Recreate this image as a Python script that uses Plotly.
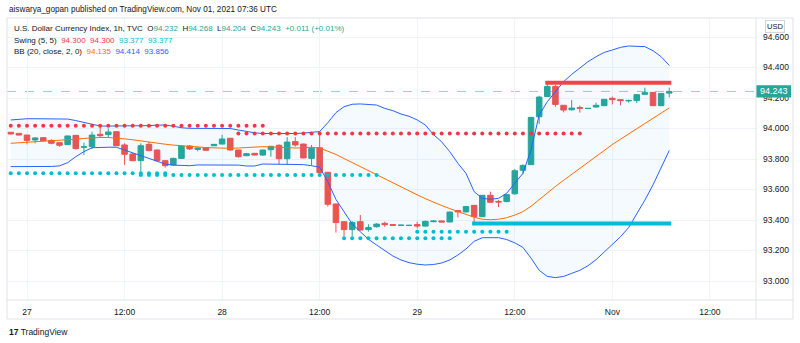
import plotly.graph_objects as go

# ---------------- data ----------------
bar_idx = list(range(-2, 80))  # hourly bars, 0 = Oct 27 00:00 UTC (weekend gap removed)

opens = [93.975, 93.968, 93.957, 93.925, 93.940, 93.922, 93.907, 93.894, 93.955, 93.877,
         93.881, 93.962, 93.960, 93.979, 93.892, 93.833, 93.789, 93.896, 93.859, 93.789,
         93.761, 93.804, 93.885, 93.863, 93.874, 93.887, 93.898, 93.936, 93.859, 93.822,
         93.837, 93.826, 93.861, 93.890, 93.802, 93.914, 93.898, 93.804, 93.874, 93.713,
         93.505, 93.389, 93.337, 93.389, 93.337, 93.356, 93.378, 93.370, 93.365, 93.364,
         93.370, 93.360, 93.389, 93.394, 93.387, 93.462, 93.453, 93.496, 93.422, 93.562,
         93.522, 93.521, 93.572, 93.726, 93.763, 94.077, 94.209, 94.276, 94.152, 94.123,
         94.137, 94.131, 94.141, 94.150, 94.198, 94.189, 94.181, 94.183, 94.224, 94.237,
         94.150, 94.232]
highs = [93.977, 93.970, 93.958, 93.944, 93.944, 93.929, 93.909, 93.953, 93.958, 93.907,
         93.979, 94.012, 94.001, 93.981, 93.903, 93.838, 93.903, 93.914, 93.863, 93.792,
         93.809, 93.887, 93.892, 93.876, 93.876, 93.898, 93.958, 93.938, 93.861, 93.840,
         93.840, 93.861, 93.885, 93.896, 93.944, 93.944, 93.900, 93.892, 93.983, 93.715,
         93.507, 93.391, 93.394, 93.433, 93.372, 93.379, 93.389, 93.374, 93.368, 93.368,
         93.389, 93.396, 93.400, 93.396, 93.455, 93.465, 93.493, 93.498, 93.564, 93.586,
         93.531, 93.570, 93.735, 93.765, 94.076, 94.215, 94.300, 94.285, 94.152, 94.187,
         94.150, 94.133, 94.169, 94.193, 94.209, 94.193, 94.189, 94.224, 94.268, 94.239,
         94.232, 94.268]
lows = [93.962, 93.955, 93.896, 93.903, 93.918, 93.896, 93.881, 93.892, 93.862, 93.826,
        93.866, 93.940, 93.940, 93.885, 93.761, 93.786, 93.717, 93.850, 93.785, 93.743,
        93.756, 93.802, 93.859, 93.850, 93.855, 93.885, 93.896, 93.855, 93.809, 93.818,
        93.824, 93.820, 93.815, 93.765, 93.763, 93.881, 93.805, 93.757, 93.705, 93.488,
        93.318, 93.291, 93.291, 93.331, 93.324, 93.350, 93.356, 93.362, 93.362, 93.360,
        93.345, 93.357, 93.385, 93.385, 93.385, 93.417, 93.450, 93.377, 93.420, 93.514,
        93.485, 93.516, 93.565, 93.700, 93.761, 94.030, 94.206, 94.142, 94.106, 94.117,
        94.104, 94.130, 94.137, 94.146, 94.158, 94.152, 94.170, 94.167, 94.222, 94.148,
        94.146, 94.204]
closes = [93.964, 93.957, 93.922, 93.938, 93.920, 93.903, 93.890, 93.951, 93.868, 93.880,
          93.957, 93.953, 93.977, 93.887, 93.831, 93.789, 93.887, 93.855, 93.789, 93.756,
          93.804, 93.885, 93.866, 93.872, 93.857, 93.896, 93.931, 93.859, 93.815, 93.835,
          93.826, 93.859, 93.883, 93.802, 93.911, 93.892, 93.807, 93.870, 93.710, 93.503,
          93.383, 93.337, 93.383, 93.334, 93.350, 93.373, 93.369, 93.365, 93.366, 93.365,
          93.360, 93.391, 93.393, 93.387, 93.452, 93.453, 93.488, 93.422, 93.562, 93.516,
          93.518, 93.566, 93.723, 93.758, 94.073, 94.206, 94.276, 94.158, 94.121, 94.134,
          94.133, 94.132, 94.152, 94.191, 94.189, 94.183, 94.184, 94.222, 94.235, 94.150,
          94.230, 94.243]

bb_upper = [94.056, 94.062, 94.064, 94.064, 94.064, 94.064, 94.064, 94.062, 94.052, 94.040,
            94.026, 94.016, 94.016, 94.016, 94.016, 94.016, 94.016, 94.019, 94.022, 94.023,
            94.015, 94.005, 94.001, 94.001, 94.001, 94.001, 94.001, 94.000, 93.990, 93.980,
            93.972, 93.967, 93.966, 93.966, 93.966, 93.967, 93.970, 93.975, 93.980, 94.038,
            94.104, 94.143, 94.159, 94.161, 94.159, 94.154, 94.132, 94.117, 94.095, 94.080,
            94.056, 94.023, 93.960, 93.913, 93.848, 93.772, 93.706, 93.586, 93.542, 93.536,
            93.542, 93.575, 93.641, 93.706, 93.860, 94.089, 94.176, 94.241, 94.307, 94.355,
            94.399, 94.438, 94.471, 94.499, 94.515, 94.532, 94.541, 94.541, 94.537, 94.510,
            94.471, 94.414]
bb_lower = [93.750, 93.750, 93.750, 93.750, 93.750, 93.751, 93.755, 93.776, 93.815, 93.848,
            93.874, 93.877, 93.877, 93.877, 93.859, 93.837, 93.820, 93.804, 93.783, 93.767,
            93.760, 93.758, 93.756, 93.761, 93.761, 93.761, 93.761, 93.761, 93.760, 93.754,
            93.754, 93.767, 93.767, 93.767, 93.767, 93.767, 93.763, 93.756, 93.746, 93.651,
            93.535, 93.454, 93.374, 93.323, 93.273, 93.236, 93.199, 93.164, 93.138, 93.120,
            93.110, 93.105, 93.108, 93.118, 93.138, 93.170, 93.210, 93.260, 93.284, 93.286,
            93.284, 93.272, 93.250, 93.220, 93.150, 93.070, 93.030, 93.022, 93.030, 93.050,
            93.070, 93.100, 93.140, 93.190, 93.240, 93.290, 93.350, 93.440, 93.530, 93.630,
            93.740, 93.856]
bb_basis = [93.903, 93.906, 93.910, 93.914, 93.917, 93.920, 93.923, 93.926, 93.930, 93.935,
            93.940, 93.941, 93.941, 93.938, 93.932, 93.926, 93.918, 93.911, 93.904, 93.897,
            93.891, 93.886, 93.881, 93.877, 93.875, 93.873, 93.871, 93.870, 93.872, 93.875,
            93.878, 93.881, 93.879, 93.876, 93.872, 93.872, 93.874, 93.877, 93.872, 93.852,
            93.830, 93.803, 93.776, 93.750, 93.722, 93.697, 93.672, 93.645, 93.615, 93.590,
            93.565, 93.540, 93.515, 93.495, 93.475, 93.455, 93.435, 93.418, 93.405, 93.402,
            93.405, 93.415, 93.432, 93.455, 93.490, 93.535, 93.575, 93.620, 93.660, 93.700,
            93.740, 93.780, 93.820, 93.860, 93.895, 93.930, 93.965, 94.000, 94.035, 94.070,
            94.100, 94.135]

# swing levels: (price, first bar, last bar)
swing_high_dots = [(94.018, -2, 29), (93.968, 26, 68)]
swing_low_dots = [(93.706, -2, 17), (93.695, 14, 43), (93.280, 39, 52), (93.323, 48, 59)]
resistance = (94.300, 64, 79)
support = (93.377, 55, 79)
last_price = 94.243

tick_bars = [0, 12, 24, 36, 48, 60, 72, 84]
tick_text = ["27", "12:00", "28", "12:00", "29", "12:00", "Nov", "12:00"]
price_ticks = [93.0, 93.2, 93.4, 93.6, 93.8, 94.0, 94.2, 94.4, 94.6]

# ---------------- style ----------------
GREEN = "#26a69a"
RED = "#ef5350"
BLUE = "#2962ff"
ORANGE = "#ff6d00"
DOT_RED = "#f23645"
DOT_CYAN = "#00bcd4"
FONT = "Liberation Sans, Arial, sans-serif"
TXT = "#131722"

W, H = 800, 343
ML, MR, MT, MB = 7, 44, 18, 43
PW = W - ML - MR
PH = H - MT - MB


def px(X):
    return (X - ML) / PW


def py(Y):
    return (H - MB - Y) / PH


fig = go.Figure()

# Bollinger fill + lines
fig.add_trace(go.Scatter(x=bar_idx, y=bb_lower, mode="lines",
                         line=dict(color=BLUE, width=1), hoverinfo="skip"))
fig.add_trace(go.Scatter(x=bar_idx, y=bb_upper, mode="lines", fill="tonexty",
                         fillcolor="rgba(33,150,243,0.05)",
                         line=dict(color=BLUE, width=1), hoverinfo="skip"))
fig.add_trace(go.Scatter(x=bar_idx, y=bb_basis, mode="lines",
                         line=dict(color=ORANGE, width=1), hoverinfo="skip"))

# candles
fig.add_trace(go.Candlestick(
    x=bar_idx, open=opens, high=highs, low=lows, close=closes,
    increasing=dict(line=dict(color=GREEN, width=1), fillcolor=GREEN),
    decreasing=dict(line=dict(color=RED, width=1), fillcolor=RED),
    whiskerwidth=0, hoverinfo="skip"))

# swing dots
for price, a, b in swing_high_dots:
    xs = list(range(a, b + 1))
    fig.add_trace(go.Scatter(x=xs, y=[price] * len(xs), mode="markers",
                             marker=dict(color=DOT_RED, size=4), hoverinfo="skip"))
for price, a, b in swing_low_dots:
    xs = list(range(a, b + 1))
    fig.add_trace(go.Scatter(x=xs, y=[price] * len(xs), mode="markers",
                             marker=dict(color=DOT_CYAN, size=4), hoverinfo="skip"))

# swing thick lines
for (price, a, b), col in [(resistance, "#f44346"), (support, "#00bcd4")]:
    fig.add_trace(go.Scatter(x=[a - 0.25, b + 0.25], y=[price, price], mode="lines",
                             line=dict(color=col, width=4), hoverinfo="skip"))

shapes = [
    # last price dashed line
    dict(type="line", xref="paper", yref="y", x0=0, x1=1, y0=last_price, y1=last_price,
         line=dict(color="rgba(38,166,154,0.5)", width=1, dash="dash"), layer="below"),
    # price label box
    dict(type="rect", xref="paper", yref="y", x0=1.0, x1=px(791), y0=last_price - 0.040,
         y1=last_price + 0.040, fillcolor=GREEN, line=dict(width=0)),
    # frame
    dict(type="rect", xref="paper", yref="paper", x0=0, x1=px(793), y0=py(319), y1=1,
         line=dict(color="#e0e3eb", width=1)),
    dict(type="line", xref="paper", yref="paper", x0=1, x1=1, y0=py(319), y1=1,
         line=dict(color="#e0e3eb", width=1)),
    dict(type="line", xref="paper", yref="paper", x0=0, x1=px(793), y0=0, y1=0,
         line=dict(color="#e0e3eb", width=1)),
]

ann = []


def add_text(X, Y, text, size=10, color=TXT, anchor="left", **kw):
    ann.append(dict(xref="paper", yref="paper", x=px(X), y=py(Y), text=text,
                    showarrow=False, xanchor=anchor, yanchor="middle",
                    font=dict(family=FONT, size=size, color=color), **kw))


def span(t, c):
    return f"<span style='color:{c}'>{t}</span>"


add_text(7, 9, "aiswarya_gopan published on TradingView.com, Nov 01, 2021 07:36 UTC", size=8.2)
add_text(12, 28, "U.S. Dollar Currency Index, 1h, TVC  O" + span("94.232", GREEN) + "  H" +
         span("94.268", GREEN) + "  L" + span("94.204", GREEN) + "  C" + span("94.243", GREEN) +
         "  " + span("+0.011 (+0.01%)", GREEN), size=8)
add_text(12, 40, "Swing (5, 5)  " + span("94.300", DOT_RED) + "  " + span("94.300", DOT_RED) +
         "  " + span("93.377", DOT_CYAN) + "  " + span("93.377", DOT_CYAN), size=8)
add_text(12, 52, "BB (20, close, 2, 0)  " + span("94.135", ORANGE) + "  " + span("94.414", BLUE) +
         "  " + span("93.856", BLUE), size=8)
add_text(775, 26, "USD", size=7.5, anchor="center", bordercolor="#d1d4dc", borderwidth=1,
         borderpad=1, bgcolor="white")
ann.append(dict(xref="paper", yref="y", x=px(773.5), y=last_price, text="94.243",
                showarrow=False, xanchor="center", yanchor="middle",
                font=dict(family=FONT, size=9, color="white")))
add_text(7, 332, "<b>17</b> TradingView", size=8.5)

fig.update_layout(
    width=W, height=H, margin=dict(l=ML, r=MR, t=MT, b=MB),
    paper_bgcolor="white", plot_bgcolor="white", showlegend=False,
    boxgap=0.15, boxgroupgap=0.2,
    shapes=shapes, annotations=ann,
    xaxis=dict(range=[-2.46, 89.67], tickvals=tick_bars, ticktext=tick_text,
               showgrid=True, gridcolor="#f0f3fa", zeroline=False, showline=False,
               rangeslider=dict(visible=False), ticks="", ticklabelstandoff=5,
               tickfont=dict(family=FONT, size=8.5, color=TXT), fixedrange=True),
    yaxis=dict(range=[92.8754, 94.7246], side="right", tickvals=price_ticks,
               ticktext=[f"{v:.3f}" for v in price_ticks], showgrid=True,
               gridcolor="#f0f3fa", zeroline=False, showline=False, ticks="",
               ticklabelstandoff=6, tickfont=dict(family=FONT, size=8.5, color=TXT),
               fixedrange=True),
)

fig.write_html("out.html")
